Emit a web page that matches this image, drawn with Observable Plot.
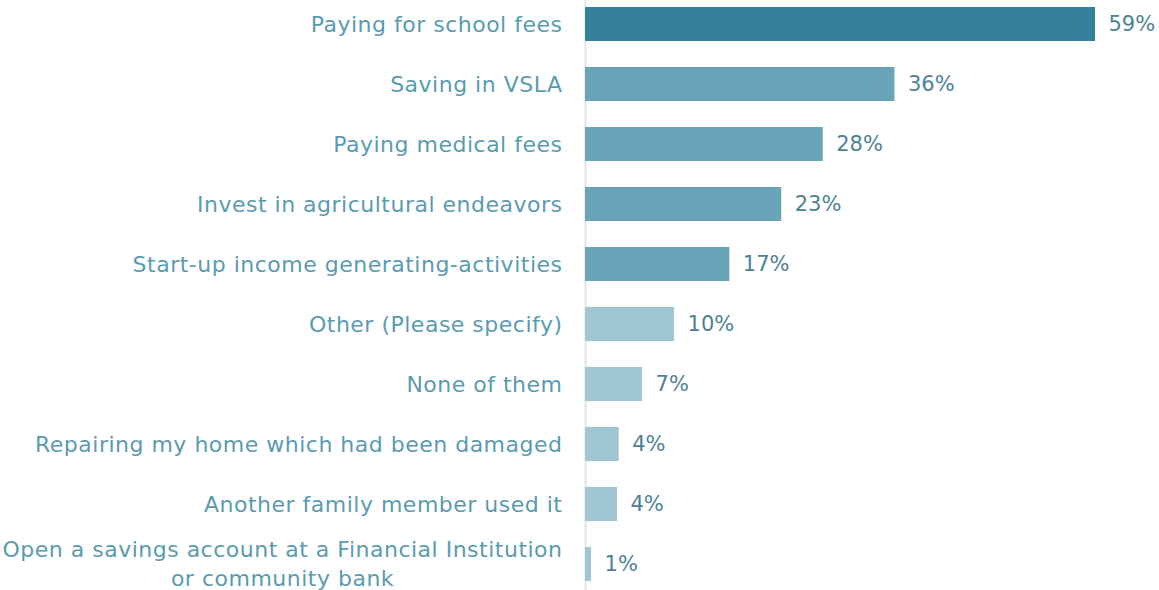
<!DOCTYPE html>
<html>
<head>
<meta charset="utf-8">
<script src="https://cdn.jsdelivr.net/npm/d3@7"></script>
<script src="https://cdn.jsdelivr.net/npm/@observablehq/plot@0.6"></script>
<style>
  html, body { margin: 0; padding: 0; background: #ffffff; }
  #chart svg { display: block; }
</style>
</head>
<body>
<div id="chart"></div>
<script>
const categories = [
  "Paying for school fees",
  "Saving in VSLA",
  "Paying medical fees",
  "Invest in agricultural endeavors",
  "Start-up income generating-activities",
  "Other (Please specify)",
  "None of them",
  "Repairing my home which had been damaged",
  "Another family member used it",
  "Open a savings account at a Financial Institution\nor community bank"
];
const values = [59, 35.8, 27.5, 22.7, 16.7, 10.3, 6.6, 3.9, 3.7, 0.7];
const valueLabels = ["59%", "36%", "28%", "23%", "17%", "10%", "7%", "4%", "4%", "1%"];
const shades = ["dark", "mid", "mid", "mid", "mid", "light", "light", "light", "light", "light"];

const data = categories.map((c, i) => ({category: c, value: values[i], label: valueLabels[i], shade: shades[i]}));
const single = data.filter(d => !d.category.includes("\n"));
const multi = data.filter(d => d.category.includes("\n"));

const font = "'DejaVu Sans', sans-serif";
const labelColor = "#5b9bb1";

const chart = Plot.plot({
  width: 1159,
  height: 590,
  marginLeft: 585,
  marginRight: 0,
  marginTop: 0,
  marginBottom: 0,
  style: {fontFamily: font, background: "#ffffff"},
  x: {domain: [0, 59], range: [585, 1095], axis: null},
  y: {domain: categories, range: [-6, 594], paddingInner: 0.43, paddingOuter: 0.215, axis: null},
  color: {domain: ["dark", "mid", "light"], range: ["#35819c", "#6aa4b9", "#a0c6d4"]},
  marks: [
    Plot.ruleX([0], {stroke: "#dbe7eb", strokeWidth: 2, y1: () => categories[0], y2: () => categories[categories.length-1], insetTop: -60, insetBottom: -60}),
    Plot.barX(data, {x: "value", y: "category", fill: "shade"}),
    Plot.text(data, {x: "value", y: "category", text: "label", textAnchor: "start", dx: 13, fontSize: 21, fill: "#4d8296"}),
    Plot.text(single, {x: 0, y: "category", text: "category", textAnchor: "end", dx: -23, fontSize: 22, fill: labelColor}),
    Plot.text(multi, {x: 0, y: "category", text: "category", textAnchor: "middle", dx: -303, dy: -2, fontSize: 22, lineHeight: 1.3, fill: labelColor})
  ]
});
d3.select(chart).selectAll(`g[fill="${labelColor}"]`).style("letter-spacing", "0.5px");
document.getElementById("chart").appendChild(chart);
</script>
</body>
</html>
